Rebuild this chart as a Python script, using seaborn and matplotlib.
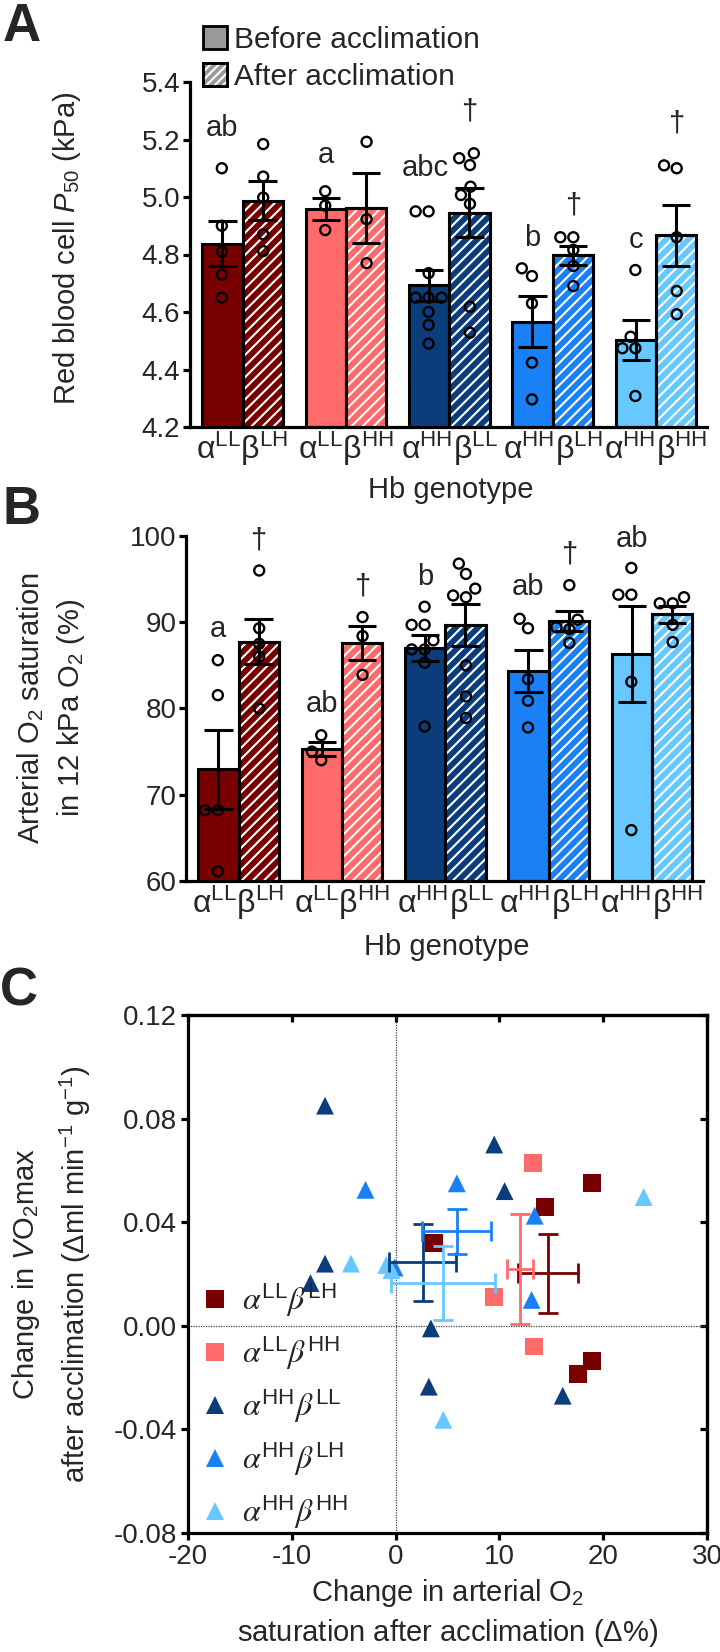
import matplotlib
matplotlib.use('Agg')
import numpy as np
import pandas as pd
import seaborn as sns
import matplotlib.pyplot as plt
from matplotlib.patches import Patch, Rectangle
from matplotlib.legend_handler import HandlerTuple
from matplotlib.font_manager import FontProperties

# ---------------- data ----------------
genotypes = ['aLLbLH', 'aLLbHH', 'aHHbLL', 'aHHbLH', 'aHHbHH']
genotype_ticks = [r'$\mathrm{α^{LL}β^{LH}}$', r'$\mathrm{α^{LL}β^{HH}}$',
                  r'$\mathrm{α^{HH}β^{LL}}$', r'$\mathrm{α^{HH}β^{LH}}$',
                  r'$\mathrm{α^{HH}β^{HH}}$']
genotype_legend = [r'$α^{\mathregular{LL}}β^{\mathregular{LH}}$',
                   r'$α^{\mathregular{LL}}β^{\mathregular{HH}}$',
                   r'$α^{\mathregular{HH}}β^{\mathregular{LL}}$',
                   r'$α^{\mathregular{HH}}β^{\mathregular{LH}}$',
                   r'$α^{\mathregular{HH}}β^{\mathregular{HH}}$']
phases = ['Before acclimation', 'After acclimation']
colors = ['#780000', '#ff6a6a', '#0b3d7c', '#1a80f5', '#66c8ff']

# Panel A: red blood cell P50 (kPa), individual values
p50_before = [[5.10, 4.90, 4.81, 4.73, 4.65],
              [5.02, 4.97, 4.885],
              [4.95, 4.95, 4.735, 4.65, 4.65, 4.65, 4.60, 4.555, 4.49],
              [4.752, 4.725, 4.63, 4.424, 4.296],
              [4.746, 4.514, 4.474, 4.474, 4.308]]
p50_after = [[5.184, 5.071, 4.998, 4.87, 4.812],
             [5.192, 4.923, 4.77],
             [5.152, 5.135, 5.111, 5.036, 5.007, 4.976, 4.618, 4.528],
             [4.86, 4.86, 4.816, 4.76, 4.69],
             [5.11, 5.10, 4.86, 4.673, 4.592]]
p50_letters = ['ab', 'a', 'abc', 'b', 'c']
p50_letter_y = [5.24, 5.146, 5.10, 4.857, 4.85]
p50_daggers = ['', '', '†', '†', '†']
p50_dagger_y = [0, 0, 5.296, 4.972, 5.257]

# Panel B: arterial O2 saturation (%), individual values
sat_before = [[85.6, 81.55, 68.2, 68.2, 61.1],
              [76.9, 75.0, 74.0],
              [91.8, 89.7, 89.7, 87.9, 86.85, 86.85, 85.3, 77.9],
              [90.4, 89.3, 83.4, 80.9, 77.8],
              [96.3, 93.2, 93.2, 83.1, 65.9]]
sat_after = [[96.0, 89.3, 87.5, 86.0, 80.0],
             [90.6, 88.4, 83.9],
             [96.8, 95.6, 93.9, 93.1, 92.9, 85.0, 81.4, 78.9],
             [94.3, 90.3, 89.4, 89.2, 87.6],
             [92.9, 92.2, 92.2, 89.7, 87.7]]
sat_letters = ['a', 'ab', 'b', 'ab', 'ab']
sat_letter_y = [89.2, 80.5, 95.3, 94.1, 99.7]
sat_daggers = ['†', '†', '', '†', '']
sat_dagger_y = [99.5, 94.1, 0, 97.8, 0]

# Panel C: change in saturation (x) vs change in VO2max (y)
dsat = [[3.7, 14.4, 18.9, 18.9, 17.6],
        [13.2, 9.5, 13.3],
        [-6.8, 9.5, 10.5, -6.8, -8.2, 3.4, 3.2, 16.1],
        [-2.9, 5.9, 13.4, -0.1, 13.1],
        [23.9, -4.3, -0.9, -0.4, 4.6]]
dvo2 = [[0.032, 0.046, 0.055, -0.0135, -0.0185],
        [0.063, 0.011, -0.008],
        [0.085, 0.070, 0.052, 0.024, 0.0165, -0.001, -0.0235, -0.027],
        [0.0525, 0.055, 0.0425, 0.0225, 0.010],
        [0.0497, 0.024, 0.0235, 0.0215, -0.0363]]
markers_c = ['s', 's', '^', '^', '^']

# ---------------- style ----------------
sns.set_theme(style='ticks')
plt.rcParams['font.family'] = ['Liberation Sans', 'DejaVu Sans']
plt.rcParams['mathtext.fontset'] = 'custom'
plt.rcParams['mathtext.rm'] = 'Liberation Sans'
plt.rcParams['mathtext.it'] = 'Liberation Sans:italic'
plt.rcParams['mathtext.bf'] = 'Liberation Sans:bold'
plt.rcParams['mathtext.sf'] = 'Liberation Sans'
plt.rcParams['axes.unicode_minus'] = False
plt.rcParams['hatch.linewidth'] = 1.5

SP = 2.3   # spine width (pt)
TL = 5.0   # tick length (pt)
FT = 20    # tick label size
FL = 21    # axis label size

fig = plt.figure(figsize=(7.2, 16.52), dpi=100)
W, H = 720.0, 1652.0
axA = fig.add_axes([190 / W, 1 - 427 / H, 517 / W, 345 / H])
axB = fig.add_axes([186 / W, 1 - 881 / H, 517 / W, 345 / H])
axC = fig.add_axes([188 / W, 1 - 1533 / H, 519 / W, 518 / H])

BARW = 0.78


def long_frame(before, after):
    rows = []
    for g, vb, va in zip(genotypes, before, after):
        rows += [(g, phases[0], v) for v in vb]
        rows += [(g, phases[1], v) for v in va]
    return pd.DataFrame(rows, columns=['genotype', 'phase', 'value'])


def bar_panel(ax, before, after, ylim, yticks, yfmt, letters, letter_y, daggers, dagger_y):
    df = long_frame(before, after)
    sns.barplot(data=df, x='genotype', y='value', hue='phase', order=genotypes,
                hue_order=phases, errorbar='se', capsize=0.55, width=BARW, gap=0,
                palette=['0.6', '0.6'], saturation=1, edgecolor='black', linewidth=2.2,
                err_kws={'color': 'black', 'linewidth': 2.2, 'solid_capstyle': 'butt'},
                legend=False, ax=ax)
    for ci, cont in enumerate(ax.containers):
        for p in cont:
            j = int(round(p.get_x() + p.get_width() / 2))
            p.set_facecolor(colors[j])
            if ci == 1:
                ax.add_patch(Rectangle((p.get_x(), p.get_y()), p.get_width(), p.get_height(),
                                       fill=False, hatch='///', edgecolor='white',
                                       linewidth=0, zorder=1.1))
                ax.add_patch(Rectangle((p.get_x(), p.get_y()), p.get_width(), p.get_height(),
                                       fill=False, edgecolor='black', linewidth=2.2,
                                       zorder=1.2))
    n0 = len(ax.collections)
    sns.swarmplot(data=df, x='genotype', y='value', hue='phase', order=genotypes,
                  hue_order=phases, dodge=True, palette=['white', 'white'], size=7.2,
                  edgecolor='black', linewidth=1.7, legend=False, ax=ax, zorder=5,
                  warn_thresh=1)
    for c in ax.collections[n0:]:
        c.set_facecolor('none')
        c.set_edgecolor('black')
    off = BARW / 4
    for j in range(len(genotypes)):
        dx = -0.04 if len(letters[j]) > 2 else 0
        ax.text(j - off + dx, letter_y[j], letters[j], ha='center', va='center', fontsize=21)
        if daggers[j]:
            ax.text(j + off, dagger_y[j], daggers[j], ha='center', va='center', fontsize=21)
    ax.set_ylim(*ylim)
    ax.set_yticks(yticks)
    ax.set_yticklabels([yfmt % t for t in yticks])
    ax.set_xlim(-0.508, 4.493)
    ax.set_xticks(range(len(genotypes)))
    ax.set_xticklabels(genotype_ticks)
    ax.set_xlabel('')
    ax.set_ylabel('')
    for s in ['top', 'right']:
        ax.spines[s].set_visible(False)
    for s in ['left', 'bottom']:
        ax.spines[s].set_linewidth(SP)
        ax.spines[s].set_color('black')
    ax.tick_params(axis='y', length=TL, width=SP, labelsize=FT, pad=2, color='black')
    ax.tick_params(axis='x', length=0, labelsize=23, pad=2)


bar_panel(axA, p50_before, p50_after, (4.2, 5.4), np.round(np.arange(4.2, 5.41, 0.2), 1), '%.1f',
          p50_letters, p50_letter_y, p50_daggers, p50_dagger_y)
bar_panel(axB, sat_before, sat_after, (60, 100), [60, 70, 80, 90, 100], '%d',
          sat_letters, sat_letter_y, sat_daggers, sat_dagger_y)

# ---------------- panel C ----------------
rows = []
for g, xs, ys in zip(genotypes, dsat, dvo2):
    rows += [(g, x, y) for x, y in zip(xs, ys)]
dfC = pd.DataFrame(rows, columns=['genotype', 'dsat', 'dvo2'])
summ = dfC.groupby('genotype').agg(mx=('dsat', 'mean'), sx=('dsat', 'sem'),
                                   my=('dvo2', 'mean'), sy=('dvo2', 'sem'))
axC.axhline(0, color='#444444', lw=0.9, ls=(0, (1, 1)), zorder=0.5)
axC.axvline(0, color='#444444', lw=0.9, ls=(0, (1, 1)), zorder=0.5)
sns.scatterplot(data=dfC, x='dsat', y='dvo2', hue='genotype', style='genotype',
                hue_order=genotypes, style_order=genotypes, palette=colors,
                markers=dict(zip(genotypes, markers_c)), s=165, edgecolor='none',
                linewidth=0, ax=axC, zorder=3, legend='full')
for g, col in zip(genotypes, colors):
    r = summ.loc[g]
    axC.errorbar(r.mx, r.my, xerr=r.sx, yerr=r.sy, fmt='none', ecolor=col,
                 elinewidth=2.0, capsize=7, capthick=2.0, zorder=4)
handles, labels = axC.get_legend_handles_labels()
hmap = dict(zip(labels, handles))
leg_handles = [hmap[g] for g in genotypes]
for h in leg_handles:
    h.set_markersize(13)
axC.legend(leg_handles, genotype_legend, loc='center left', bbox_to_anchor=(0.021, 0.245),
           frameon=False, borderpad=0, borderaxespad=0, handlelength=1.0,
           handletextpad=0.35, labelspacing=0.48,
           prop=FontProperties(family='Liberation Sans', size=23, math_fontfamily='stix'))
axC.set_xlim(-20, 30)
axC.set_ylim(-0.08, 0.12)
xt = [-20, -10, 0, 10, 20, 30]
yt = [-0.08, -0.04, 0.0, 0.04, 0.08, 0.12]
axC.set_xticks(xt)
axC.set_yticks(yt)
axC.set_yticklabels(['%.2f' % t for t in yt])
axC.set_xlabel('')
axC.set_ylabel('')
for s in axC.spines.values():
    s.set_linewidth(SP)
    s.set_color('black')
axC.tick_params(axis='both', length=TL, width=SP, labelsize=FT, pad=3, color='black')
secx = axC.secondary_xaxis('top')
secx.set_xticks(xt)
secx.tick_params(direction='in', length=TL, width=SP, labeltop=False, color='black')
secx.spines['top'].set_linewidth(SP)
secy = axC.secondary_yaxis('right')
secy.set_yticks(yt)
secy.tick_params(direction='in', length=TL, width=SP, labelright=False, color='black')
secy.spines['right'].set_linewidth(SP)

# ---------------- labels ----------------
fig.text(67 / W, 1 - 248 / H, r'Red blood cell $P_{50}$ (kPa)', rotation=90,
         ha='center', va='center', fontsize=FL)
fig.text(451 / W, 1 - 490 / H, 'Hb genotype', ha='center', va='center', fontsize=FL)
fig.text(31 / W, 1 - 708 / H, r'Arterial O$_2$ saturation', rotation=90,
         ha='center', va='center', fontsize=FL)
fig.text(71 / W, 1 - 708 / H, r'in 12 kPa O$_2$ (%)', rotation=90,
         ha='center', va='center', fontsize=FL)
fig.text(447 / W, 1 - 947 / H, 'Hb genotype', ha='center', va='center', fontsize=FL)
fig.text(26 / W, 1 - 1274 / H, r'Change in $V$O$_2$max', rotation=90,
         ha='center', va='center', fontsize=FL)
fig.text(75 / W, 1 - 1274 / H, r'after acclimation ($\Delta$ml min$^{-1}$ g$^{-1}$)',
         rotation=90, ha='center', va='center', fontsize=FL)
fig.text(448 / W, 1 - 1593 / H, r'Change in arterial O$_2$', ha='center', va='center',
         fontsize=FL)
fig.text(448 / W, 1 - 1633 / H, r'saturation after acclimation ($\Delta$%)', ha='center',
         va='center', fontsize=FL)

for lab, (x, y) in zip(['A', 'B', 'C'], [(22, 27), (22, 510), (19, 991)]):
    fig.text(x / W, 1 - y / H, lab, ha='center', va='center', fontsize=38, fontweight='bold')

# legend for panel A
h_before = Patch(facecolor='0.6', edgecolor='black', linewidth=2.0)
h_after = (Patch(facecolor='0.6', edgecolor='black', linewidth=2.0),
           Patch(facecolor='none', edgecolor='white', hatch='////', linewidth=0),
           Patch(facecolor='none', edgecolor='black', linewidth=2.0))
fig.legend([h_before, h_after], phases, loc='upper left',
           bbox_to_anchor=(203 / W, 1 - 26 / H), frameon=False, borderpad=0,
           borderaxespad=0, handlelength=0.8, handleheight=0.8, handletextpad=0.25,
           labelspacing=0.3, fontsize=21.5,
           handler_map={tuple: HandlerTuple(ndivide=1, pad=0)})

fig.savefig('out.png', dpi=100)
